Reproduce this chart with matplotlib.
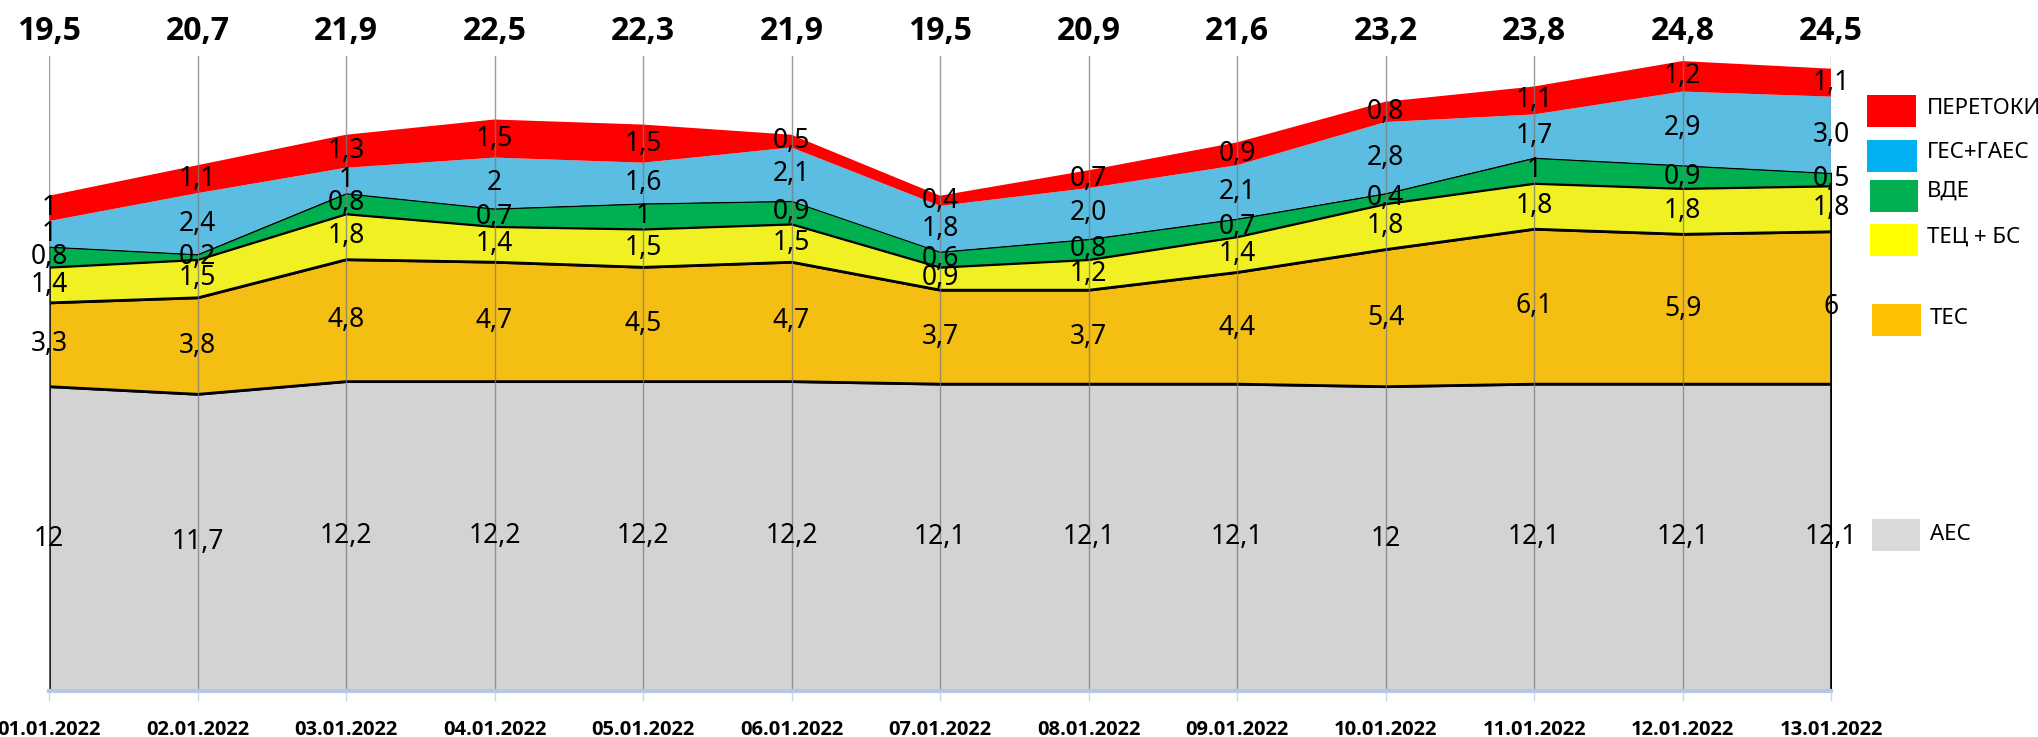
import numpy as np
import matplotlib
matplotlib.use("Agg")
import matplotlib.pyplot as plt
from matplotlib.patches import Rectangle
from matplotlib import font_manager as fm

plt.rcParams['font.family'] = ['Noto Sans', 'DejaVu Sans']

dates = ["01.01.2022", "02.01.2022", "03.01.2022", "04.01.2022", "05.01.2022",
         "06.01.2022", "07.01.2022", "08.01.2022", "09.01.2022", "10.01.2022",
         "11.01.2022", "12.01.2022", "13.01.2022"]

aes = [12, 11.7, 12.2, 12.2, 12.2, 12.2, 12.1, 12.1, 12.1, 12, 12.1, 12.1, 12.1]
tes = [3.3, 3.8, 4.8, 4.7, 4.5, 4.7, 3.7, 3.7, 4.4, 5.4, 6.1, 5.9, 6]
tec_bs = [1.4, 1.5, 1.8, 1.4, 1.5, 1.5, 0.9, 1.2, 1.4, 1.8, 1.8, 1.8, 1.8]
vde = [0.8, 0.2, 0.8, 0.7, 1, 0.9, 0.6, 0.8, 0.7, 0.4, 1, 0.9, 0.5]
ges_gaes = [1, 2.4, 1, 2, 1.6, 2.1, 1.8, 2.0, 2.1, 2.8, 1.7, 2.9, 3.0]
peretoky = [1, 1.1, 1.3, 1.5, 1.5, 0.5, 0.4, 0.7, 0.9, 0.8, 1.1, 1.2, 1.1]
totals = [19.5, 20.7, 21.9, 22.5, 22.3, 21.9, 19.5, 20.9, 21.6, 23.2, 23.8, 24.8, 24.5]

# hydro labels are shown with mixed decimals in the source
ges_labels = ["1", "2,4", "1", "2", "1,6", "2,1", "1,8", "2,0", "2,1", "2,8", "1,7", "2,9", "3,0"]

names = ["АЕС", "ТЕС", "ТЕЦ + БС", "ВДЕ", "ГЕС+ГАЕС", "ПЕРЕТОКИ"]
series = [aes, tes, tec_bs, vde, ges_gaes, peretoky]
fill_colors = ["#D3D3D3", "#F5BE12", "#F1F023", "#00AF50", "#5BBDE1", "#FF0000"]
legend_colors = ["#D9D9D9", "#FFC000", "#FFFF00", "#00B050", "#00B0F0", "#FF0000"]


def fmt(v):
    return f"{v:g}".replace(".", ",")


def pick_bold_family():
    # first candidate family that really has a bold face installed
    for fam in ["Noto Sans", "Open Sans", "Lato", "Roboto", "Liberation Sans"]:
        for f in fm.fontManager.ttflist:
            w = f.weight if isinstance(f.weight, int) else {"bold": 700, "heavy": 800, "black": 900}.get(str(f.weight), 400)
            if f.name == fam and w >= 600:
                return fam
    return "DejaVu Sans"


bold_fam = [pick_bold_family(), "DejaVu Sans"]

W, H = 2038, 737
fig = plt.figure(figsize=(W / 100, H / 100), dpi=100)
ax = fig.add_axes([49 / W, 1 - 691 / H, 1782 / W, 635 / H])

x = np.arange(len(dates))
polys = ax.stackplot(x, *series, colors=fill_colors, zorder=1)
for i, p in enumerate(polys):
    if i < 4:
        p.set_edgecolor("black")
        p.set_linewidth(2.0 if i < 3 else 1.2)
    else:
        p.set_edgecolor("none")

# vertical grid lines
for xi in x:
    ax.plot([xi, xi], [0, 25], color="#7A7A7A", lw=1.0, alpha=0.75, zorder=2)

ax.set_xlim(0, 12)
ax.set_ylim(0, 25)
for s in ["top", "right", "left"]:
    ax.spines[s].set_visible(False)
ax.spines["bottom"].set_color("#B4C7E7")
ax.spines["bottom"].set_linewidth(3)
ax.set_yticks([])
ax.set_xticks(x)
ax.set_xticklabels(dates, fontsize=14.5, fontweight="bold", family=bold_fam)
ax.tick_params(axis="x", length=7, width=1, color="#C9D7EE", pad=14)

# value labels inside each band
bottom = np.zeros(len(dates))
for i, vals in enumerate(series):
    vals = np.array(vals, dtype=float)
    for j in range(len(dates)):
        lab = ges_labels[j] if i == 4 else fmt(vals[j])
        ax.text(x[j], bottom[j] + vals[j] / 2, lab, ha="center", va="center",
                fontsize=19, color="black", zorder=5, clip_on=False)
    bottom += vals

# totals above the chart
for j, t in enumerate(totals):
    ax.text(x[j], 1 + (56 - 32) / 635, fmt(t), transform=ax.get_xaxis_transform(),
            ha="center", va="center", fontsize=23, fontweight="bold",
            family=bold_fam, clip_on=False)

# legend drawn by hand to follow the reference layout
legend_boxes = [  # (x0, y0, x1, y1, text x, text y) in pixels from top-left
    (1872, 519, 1920, 551, 1930, 534),
    (1872, 304, 1921, 336, 1930, 318),
    (1870, 224, 1918, 256, 1927, 237),
    (1870, 180, 1918, 212, 1927, 191),
    (1867, 140, 1917, 172, 1927, 152),
    (1867, 95, 1916, 127, 1927, 108),
]
for name, col, (x0, y0, x1, y1, tx, ty) in zip(names, legend_colors, legend_boxes):
    fig.patches.append(Rectangle((x0 / W, 1 - y1 / H), (x1 - x0) / W, (y1 - y0) / H,
                                 transform=fig.transFigure, facecolor=col,
                                 edgecolor="none"))
    fig.text(tx / W, 1 - ty / H, name, ha="left", va="center", fontsize=16)

fig.savefig("out.png", dpi=100)
